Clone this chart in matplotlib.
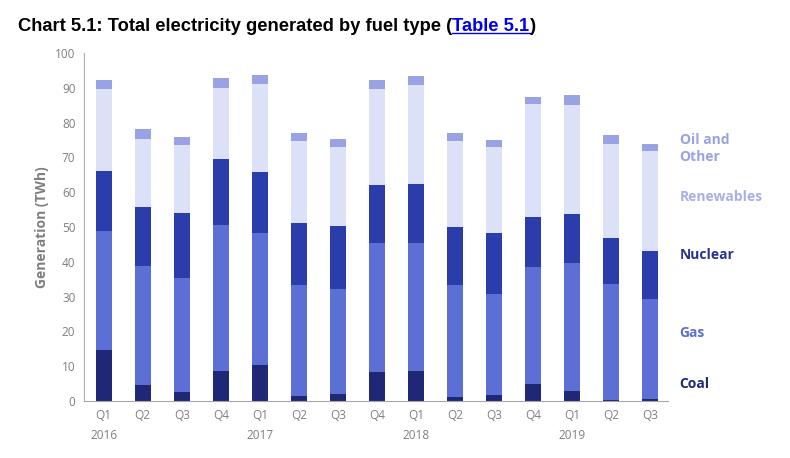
import numpy as np
import matplotlib
matplotlib.use("Agg")
import matplotlib.pyplot as plt

quarters = ["Q1\n2016", "Q2", "Q3", "Q4", "Q1\n2017", "Q2", "Q3", "Q4",
            "Q1\n2018", "Q2", "Q3", "Q4", "Q1\n2019", "Q2", "Q3"]

# TWh per quarter
coal = [14.6, 4.6, 2.7, 8.6, 10.3, 1.4, 2.0, 8.3, 8.6, 1.1, 1.7, 5.0, 2.9, 0.3, 0.6]
gas = [34.2, 34.3, 32.7, 42.0, 37.9, 31.9, 30.2, 37.1, 36.9, 32.2, 29.0, 33.5, 36.7, 33.3, 28.7]
nuclear = [17.2, 16.8, 18.7, 19.0, 17.6, 17.8, 18.0, 16.6, 16.8, 16.6, 17.5, 14.5, 14.1, 13.2, 13.8]
renewables = [23.6, 19.6, 19.4, 20.4, 25.3, 23.6, 22.8, 27.6, 28.5, 24.7, 24.7, 32.4, 31.4, 27.1, 28.8]
oil_other = [2.6, 2.8, 2.5, 2.8, 2.6, 2.2, 2.3, 2.6, 2.6, 2.3, 2.1, 2.0, 2.8, 2.5, 2.0]

series = ["Coal", "Gas", "Nuclear", "Renewables", "Oil and\nOther"]
colours = ["#1f2777", "#5c6fd5", "#2b3cab", "#dde1f7", "#99a3e3"]
text_colours = ["#1f2777", "#5c6fd5", "#27348f", "#a9b0e8", "#99a3e3"]
label_y = [5, 19.5, 42, 58.5, 72.5]

fig = plt.figure(figsize=(7.9, 4.58), dpi=100)
ax = fig.add_axes([0.106, 0.1245, 0.74, 0.7595])

x = np.arange(len(quarters))
bottom = np.zeros(len(quarters))
for vals, col in zip([coal, gas, nuclear, renewables, oil_other], colours):
    ax.bar(x, vals, width=0.41, bottom=bottom, color=col, zorder=2)
    bottom += np.array(vals)

ax.set_xlim(-0.51, 14.46)
ax.set_ylim(0, 100)
ax.set_yticks(range(0, 101, 10))
ax.set_xticks(x)
ax.set_xticklabels(quarters, fontsize=8.5, color="#7f7f7f", linespacing=1.7,
                   family="Open Sans")
for lab in ax.get_yticklabels():
    lab.set_fontsize(8.5)
    lab.set_color("#7f7f7f")
    lab.set_family("Open Sans")
ax.tick_params(axis="both", length=0, pad=6)
ax.set_ylabel("Generation (TWh)", fontsize=10, color="#7f7f7f", fontweight="bold",
              family="Open Sans", labelpad=4)

for s in ["top", "right"]:
    ax.spines[s].set_visible(False)
ax.spines["left"].set_color("#b0b0b0")
ax.spines["bottom"].set_color("#a6a6a6")

for name, col, yy in zip(series, text_colours, label_y):
    ax.text(14.75, yy, name, color=col, fontsize=10, fontweight="bold",
            family="Open Sans", va="center", ha="left", linespacing=1.3)

title_size = 13.2
t1 = fig.text(0.023, 0.943, "Chart 5.1: Total electricity generated by fuel type (",
              fontsize=title_size, fontweight="bold", family="Liberation Sans",
              va="center", ha="left")
fig.canvas.draw()
bb = t1.get_window_extent().transformed(fig.transFigure.inverted())
t2 = fig.text(bb.x1, 0.943, "Table 5.1", fontsize=title_size, fontweight="bold",
              family="Liberation Sans", color="#0000ee", va="center", ha="left")
fig.canvas.draw()
bb2 = t2.get_window_extent().transformed(fig.transFigure.inverted())
fig.add_artist(plt.Line2D([bb2.x0, bb2.x1], [bb2.y0 + 0.003, bb2.y0 + 0.003],
                          color="#0000ee", lw=1, transform=fig.transFigure))
fig.text(bb2.x1, 0.943, ")", fontsize=title_size, fontweight="bold",
         family="Liberation Sans", va="center", ha="left")

fig.savefig("out.png", dpi=100)
